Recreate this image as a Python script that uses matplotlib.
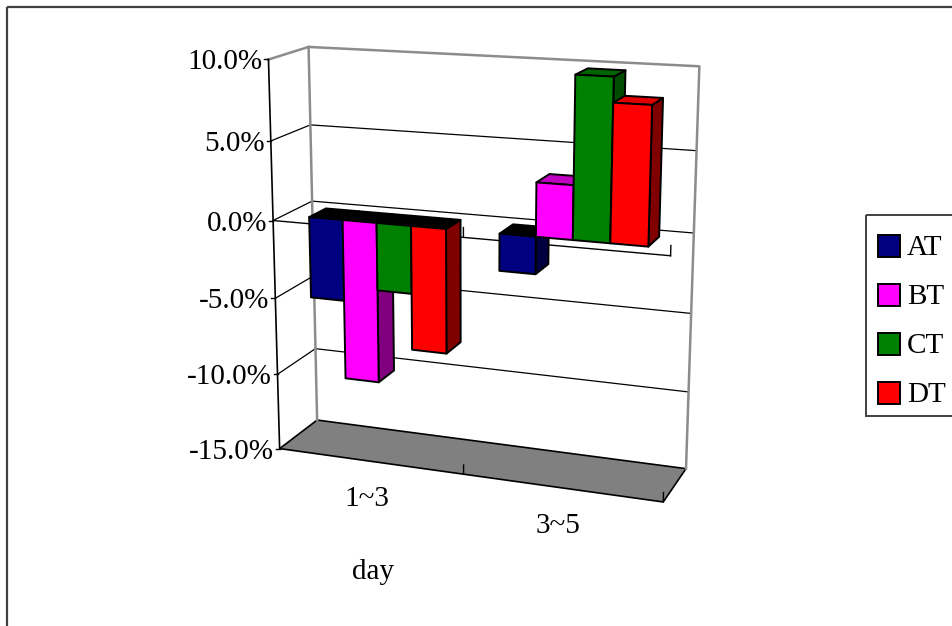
import numpy as np
import matplotlib
matplotlib.use("Agg")
import matplotlib.pyplot as plt
from matplotlib.patches import Polygon, Rectangle

# ---------------- data ----------------
categories = ['1~3', '3~5']
series_names = ['AT', 'BT', 'CT', 'DT']
AT = [-5.2, -2.3]
BT = [-10.3, 3.3]
CT = [-4.3, 9.8]
DT = [-7.9, 8.3]
values = [AT, BT, CT, DT]
yticks = [10, 5, 0, -5, -10, -15]
ytick_labels = ['10.0%', '5.0%', '0.0%', '-5.0%', '-10.0%', '-15.0%']
xlabel = 'day'

# ---------------- styles ----------------
front_colors = ['#000080', '#FF00FF', '#008000', '#FF0000']
side_colors = ['#000040', '#800080', '#004C00', '#800000']
top_colors = ['#000060', '#C000C0', '#006400', '#E00000']
FONT = ['Liberation Serif', 'DejaVu Serif']
FS = 21

# ---------------- perspective camera (fit to frame corners) ----------------
# world: X = category axis [0, 2], V = value (%), Z = depth [0 front, 1 back]
frame_world = [(0, 10, 0), (0, -15, 0), (0, 10, 1), (0, -15, 1), (2, 10, 1),
               (2, -15, 1), (2, -15, 0), (0, 0, 0), (2, 0, 0), (0, 0, 1),
               (2, 0, 1), (1, -15, 0), (1, 0, 0)]
frame_screen = [(269, 59), (279, 448), (308, 47), (317, 420), (700, 66),
                (686, 469), (664, 501), (273, 220), (670, 257), (313, 202),
                (693, 232), (464, 475), (463, 238)]
rows = []
for (X, V, Z), (u, v) in zip(frame_world, frame_screen):
    Y = V / 10.0
    u /= 1000.0
    v /= 1000.0
    rows.append([X, Y, Z, 1, 0, 0, 0, 0, -u * X, -u * Y, -u * Z, -u])
    rows.append([0, 0, 0, 0, X, Y, Z, 1, -v * X, -v * Y, -v * Z, -v])
_, _, Vt = np.linalg.svd(np.array(rows, float))
P = Vt[-1].reshape(3, 4)


def proj(X, V, Z):
    h = P @ np.array([X, V / 10.0, Z, 1.0])
    return (1000.0 * h[0] / h[2], 1000.0 * h[1] / h[2])


# ---------------- figure ----------------
fig = plt.figure(figsize=(9.52, 6.26), dpi=100)
ax = fig.add_axes([0, 0, 1, 1])
ax.set_xlim(0, 952)
ax.set_ylim(626, 0)
ax.axis('off')

# outer chart border
ax.add_patch(Rectangle((7, 7), 1100, 1000, fill=False, ec='#404040', lw=1.6))

VMAX, VMIN = yticks[0], yticks[-1]
NCAT = len(categories)

# floor
floor = [proj(0, VMIN, 0), proj(0, VMIN, 1), proj(NCAT, VMIN, 1), proj(NCAT, VMIN, 0)]
ax.add_patch(Polygon(floor, closed=True, fc='#808080', ec='black', lw=1.2, zorder=1))

# gridlines on side wall and back wall
for t in yticks[1:-1]:
    pts = [proj(0, t, 0), proj(0, t, 1), proj(NCAT, t, 1)]
    ax.plot([p[0] for p in pts], [p[1] for p in pts], color='black', lw=0.9, zorder=2)
# top edges (gray)
pts = [proj(0, VMAX, 0), proj(0, VMAX, 1), proj(NCAT, VMAX, 1), proj(NCAT, VMIN, 1)]
ax.plot([p[0] for p in pts], [p[1] for p in pts], color='#8c8c8c', lw=1.8, zorder=2)
pts = [proj(0, VMAX, 1), proj(0, VMIN, 1)]
ax.plot([p[0] for p in pts], [p[1] for p in pts], color='#8c8c8c', lw=1.8, zorder=2)

# value axis (front-left edge)
pts = [proj(0, VMAX, 0), proj(0, VMIN, 0)]
ax.plot([p[0] for p in pts], [p[1] for p in pts], color='black', lw=1.2, zorder=3)
for t, lab in zip(yticks, ytick_labels):
    x, y = proj(0, t, 0)
    ax.plot([x - 4, x], [y, y], color='black', lw=1.0, zorder=3)
    ax.text(x - 6, y + 3, lab, ha='right', va='center', fontsize=FS,
            family=FONT, color='black')

# category axis line at 0 (front) and ticks
pts = [proj(0, 0, 0), proj(NCAT, 0, 0)]
ax.plot([p[0] for p in pts], [p[1] for p in pts], color='black', lw=1.0, zorder=3)
for k in range(1, NCAT + 1):
    a = proj(k, 0, 0)
    b = proj(k, 0.6, 0)
    ax.plot([a[0], b[0]], [a[1], b[1]], color='black', lw=1.0, zorder=3)
    a = proj(k, VMIN, 0)
    b = proj(k, VMIN + 0.6, 0)
    ax.plot([a[0], b[0]], [a[1], b[1]], color='black', lw=1.0, zorder=3)

# category labels
for i, c in enumerate(categories):
    x, y = proj(i + 0.5, VMIN, 0)
    ax.text(x - 3, y + 38, c, ha='center', va='center', fontsize=FS,
            family=FONT, color='black')
ax.text(373, 572, xlabel, ha='center', va='center', fontsize=FS, family=FONT,
        color='black')

# bars
nser = len(series_names)
w = 1.0 / (nser + 1.5)
z0, z1 = 0.28, 0.72
zo = 10
for i in range(NCAT):
    for j in range(nser):
        val = values[j][i]
        x0 = i + 0.75 * w + j * w
        x1 = x0 + w
        lo, hi = min(0, val), max(0, val)
        side = [proj(x1, lo, z0), proj(x1, hi, z0), proj(x1, hi, z1), proj(x1, lo, z1)]
        top = [proj(x0, hi, z0), proj(x1, hi, z0), proj(x1, hi, z1), proj(x0, hi, z1)]
        front = [proj(x0, lo, z0), proj(x1, lo, z0), proj(x1, hi, z0), proj(x0, hi, z0)]
        tc = top_colors[j] if val >= 0 else 'black'
        for poly, col in ((side, side_colors[j]), (top, tc), (front, front_colors[j])):
            ax.add_patch(Polygon(poly, closed=True, fc=col, ec='black', lw=1.4,
                                 joinstyle='round', zorder=zo))
        zo += 1

# legend
ax.add_patch(Rectangle((866, 215), 200, 201, fill=False, ec='#404040', lw=1.4))
for j, name in enumerate(series_names):
    cy = 246 + j * 49
    ax.add_patch(Rectangle((878, cy - 11), 22, 22, fc=front_colors[j], ec='black', lw=1.4))
    ax.text(907, cy + 2, name, ha='left', va='center', fontsize=FS, family=FONT,
            color='black')

fig.savefig('out.png', dpi=100)
